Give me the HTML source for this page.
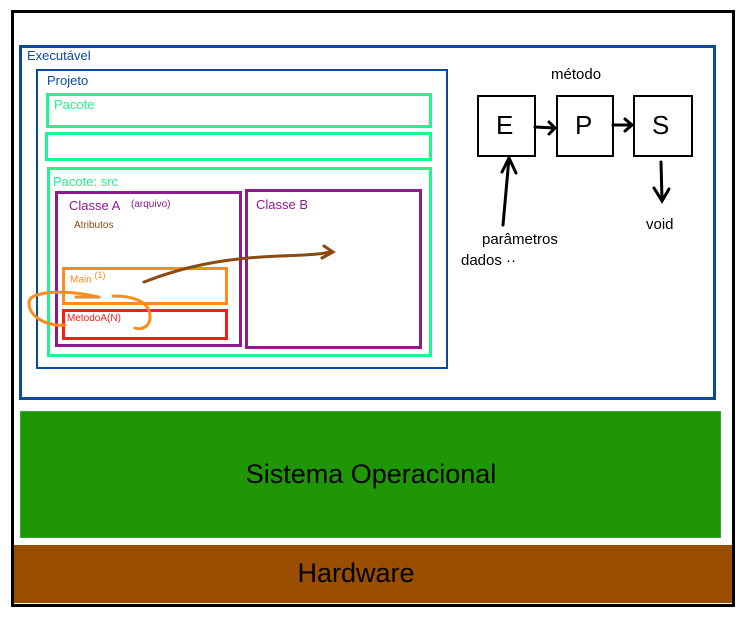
<!DOCTYPE html>
<html><head><meta charset="utf-8"><style>
body{margin:0;width:744px;height:620px;background:#fff;position:relative;overflow:hidden;font-family:"Liberation Sans",sans-serif}
.b{position:absolute;box-sizing:border-box}
.t{position:absolute;white-space:nowrap}
</style></head><body>
<div class="b" style="left:11px;top:10px;width:724px;height:597px;border:3px solid #000"></div>
<div class="b" style="left:19px;top:45px;width:697px;height:355px;border:3px solid #0b4a9a"></div>
<div class="t" style="left:27px;top:48px;font-size:13px;color:#0b4a9a">Executável</div>
<div class="b" style="left:36px;top:69px;width:412px;height:300px;border:2px solid #0b4a9a"></div>
<div class="t" style="left:47px;top:73px;font-size:13px;color:#0b4a9a">Projeto</div>
<div class="b" style="left:46px;top:93px;width:386px;height:35px;border:3px solid #1ef58e"></div>
<div class="t" style="left:54px;top:97px;font-size:13px;color:#1ef58e">Pacote</div>
<div class="b" style="left:45px;top:132px;width:387px;height:29px;border:3px solid #1ef58e"></div>
<div class="b" style="left:47px;top:167px;width:385px;height:190px;border:3px solid #1ef58e"></div>
<div class="t" style="left:53px;top:174px;font-size:13px;color:#1ef58e">Pacote: src</div>
<div class="b" style="left:55px;top:191px;width:187px;height:156px;border:3px solid #8e1a8e"></div>
<div class="t" style="left:69px;top:198px;font-size:13px;color:#8e1a8e">Classe A</div>
<div class="t" style="left:131px;top:199px;font-size:10px;color:#8e1a8e">(arquivo)</div>
<div class="t" style="left:74px;top:220px;font-size:10px;color:#8b4a10">Atributos</div>
<div class="b" style="left:245px;top:189px;width:177px;height:160px;border:3px solid #8e1a8e"></div>
<div class="t" style="left:256px;top:197px;font-size:13px;color:#8e1a8e">Classe B</div>
<div class="b" style="left:62px;top:267px;width:166px;height:38px;border:3px solid #ff8c1a"></div>
<div class="t" style="left:70px;top:270px;font-size:10px;color:#ff8c1a">Main <sup style="font-size:9px">(1)</sup></div>
<div class="b" style="left:62px;top:309px;width:166px;height:31px;border:3px solid #ff1a1a"></div>
<div class="t" style="left:67px;top:313px;font-size:10px;color:#ff1a1a">MetodoA(N)</div>
<svg style="position:absolute;left:0;top:0" width="744" height="620" fill="none" stroke-linecap="round">
<path d="M144 282 C180 268,220 258,280 256 S320 252,333 252 M324 246 L333 252 L322 258" stroke="#8b4a10" stroke-width="3"/>
<path d="M98 297 C70 290,30 290,29 302 C28 318,50 327,65 325 M76 297 L99 297 M113 296 C140 296,150 305,150 317 C150 328,140 330,135 328" stroke="#ff8c1a" stroke-width="3"/>
<g stroke="#000" stroke-width="2">
<rect x="478" y="96" width="57" height="60"/><rect x="557" y="96" width="56" height="60"/><rect x="634" y="96" width="58" height="60"/>
</g>
<g stroke="#000" stroke-width="3">
<path d="M535 127 L554 128 M549 122 L555 128 L549 134"/>
<path d="M613 125 L631 125 M625 119 L632 125 L625 131"/>
<path d="M503 225 L509 158 M502 172 L509 158 L516 173"/>
<path d="M661 162 L662 200 M654 188 L662 201 L669 189"/>
</g>
</svg>
<div class="t" style="left:496px;top:110px;font-size:26px">E</div>
<div class="t" style="left:575px;top:110px;font-size:26px">P</div>
<div class="t" style="left:652px;top:110px;font-size:26px">S</div>
<div class="t" style="left:551px;top:66px;font-size:15px">método</div>
<div class="t" style="left:482px;top:231px;font-size:15px">parâmetros</div>
<div class="t" style="left:461px;top:252px;font-size:15px">dados ··</div>
<div class="t" style="left:646px;top:216px;font-size:15px">void</div>
<div class="b" style="left:20px;top:411px;width:701px;height:127px;background:#1f9604;border:1px solid #34a83a"></div>
<div class="t" style="left:0;width:744px;text-align:center;top:459px;font-size:27px;color:#000"><span style="position:relative;left:-1px">Sistema Operacional</span></div>
<div class="b" style="left:14px;top:545px;width:718px;height:58px;background:#9a4e00"></div>
<div class="t" style="left:0;width:744px;text-align:center;top:558px;font-size:27px;color:#000"><span style="position:relative;left:-16px">Hardware</span></div>
</body></html>
